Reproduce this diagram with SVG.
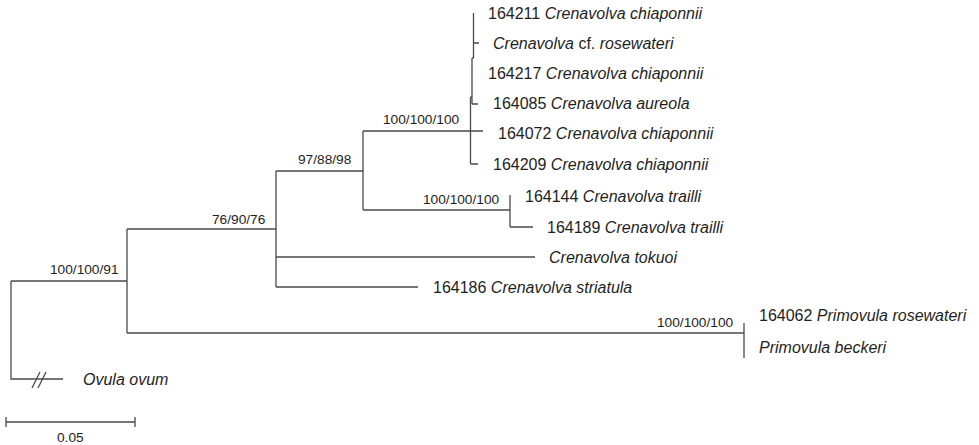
<svg xmlns="http://www.w3.org/2000/svg" width="979" height="445" viewBox="0 0 979 445">
<style>
.br{fill:none;stroke:#4a4a4a;stroke-width:1.3}
.lab{font-family:"Liberation Sans",Arial,sans-serif;font-size:16px;fill:#1e1e1e}
.sp{font-style:italic}
.sup{font-family:"Liberation Sans",Arial,sans-serif;font-size:13.7px;fill:#1e1e1e}
</style>
<rect width="979" height="445" fill="#fff"/>
<g id="connectors">
<path class="br" d="M11 281V379H63M11 281H127"/>
<path class="br" d="M32 388L40 372M38 388L46 372"/>
<path class="br" d="M127 229V333M127 229H276M127 333H744"/>
<path class="br" d="M276 171V287M276 171H363M276 257H535M276 287H418"/>
<path class="br" d="M363 131V210M363 131H470.5M363 210H510"/>
<path class="br" d="M510 195V227M510 227H533"/>
<path class="br" d="M470.5 97V164M470.5 131H483M470.5 164H478M470.5 97H472"/>
<path class="br" d="M472 58V104M472 104H478M472 58H473.5"/>
<path class="br" d="M473.5 13V58M473.5 43H479"/>
<path class="br" d="M744 323V358"/>
<path class="br" d="M6 422H135M6 417V427M135 417V427"/>
</g>
<g id="supports">
<text class="sup" x="50" y="274">100/100/91</text>
<text class="sup" x="212" y="224">76/90/76</text>
<text class="sup" x="298" y="164">97/88/98</text>
<text class="sup" x="383" y="124">100/100/100</text>
<text class="sup" x="423" y="204">100/100/100</text>
<text class="sup" x="657" y="327">100/100/100</text>
</g>
<g id="t164211"><text class="lab" x="488" y="18.5">164211 <tspan class="sp">Crenavolva chiaponnii</tspan></text></g>
<g id="tcfrose"><text class="lab" x="493" y="48.5"><tspan class="sp">Crenavolva</tspan> cf. <tspan class="sp">rosewateri</tspan></text></g>
<g id="t164217"><text class="lab" x="488" y="78.5">164217 <tspan class="sp">Crenavolva chiaponnii</tspan></text></g>
<g id="t164085"><text class="lab" x="493" y="109">164085 <tspan class="sp">Crenavolva aureola</tspan></text></g>
<g id="t164072"><text class="lab" x="498" y="139">164072 <tspan class="sp">Crenavolva chiaponnii</tspan></text></g>
<g id="t164209"><text class="lab" x="493" y="169.5">164209 <tspan class="sp">Crenavolva chiaponnii</tspan></text></g>
<g id="t164144"><text class="lab" x="525" y="201.5">164144 <tspan class="sp">Crenavolva trailli</tspan></text></g>
<g id="t164189"><text class="lab" x="547" y="232.5">164189 <tspan class="sp">Crenavolva trailli</tspan></text></g>
<g id="ttokuoi"><text class="lab sp" x="549" y="262.5">Crenavolva tokuoi</text></g>
<g id="t164186"><text class="lab" x="433" y="292.5">164186 <tspan class="sp">Crenavolva striatula</tspan></text></g>
<g id="t164062"><text class="lab" x="759" y="320.5">164062 <tspan class="sp">Primovula rosewateri</tspan></text></g>
<g id="tbeckeri"><text class="lab sp" x="759" y="353">Primovula beckeri</text></g>
<g id="tovula"><text class="lab sp" x="83" y="385">Ovula ovum</text></g>
<g id="scale"><text class="sup" x="57" y="442">0.05</text></g>
</svg>
